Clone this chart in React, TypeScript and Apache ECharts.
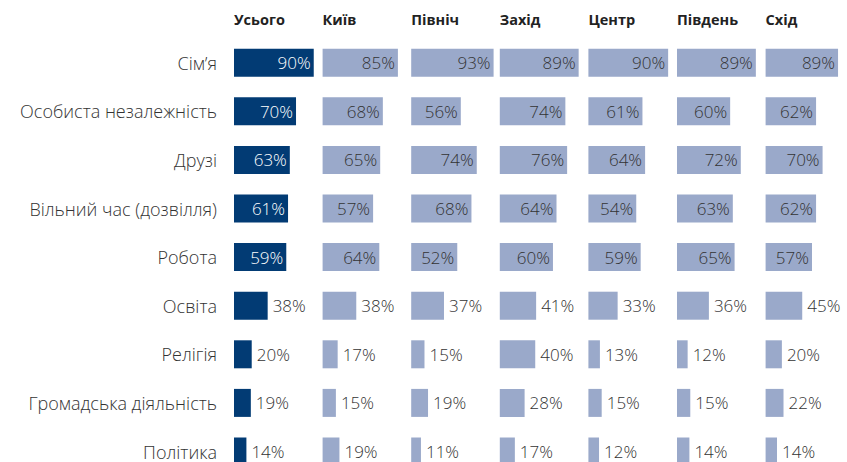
import React, { useEffect, useRef } from "react";
import * as echarts from "echarts";

const categories = [
  "Сім’я",
  "Особиста незалежність",
  "Друзі",
  "Вільний час (дозвілля)",
  "Робота",
  "Освіта",
  "Релігія",
  "Громадська діяльність",
  "Політика",
];

const regions = ["Усього", "Київ", "Північ", "Захід", "Центр", "Південь", "Схід"];

const total = [90, 70, 63, 61, 59, 38, 20, 19, 14];
const kyiv = [85, 68, 65, 57, 64, 38, 17, 15, 19];
const north = [93, 56, 74, 68, 52, 37, 15, 19, 11];
const west = [89, 74, 76, 64, 60, 41, 40, 28, 17];
const center = [90, 61, 64, 54, 59, 33, 13, 15, 12];
const south = [89, 60, 72, 63, 65, 36, 12, 15, 14];
const east = [89, 62, 70, 62, 57, 45, 20, 22, 14];

const seriesValues = [total, kyiv, north, west, center, south, east];

const DARK = "#023b74";
const LIGHT = "#9aa9ca";
const TEXT = "#333333";
const FONT = "'Open Sans', 'Noto Sans', sans-serif";

export default function App() {
  const ref = useRef<HTMLDivElement>(null);

  useEffect(() => {
    if (!ref.current) return;
    const chart = echarts.init(ref.current, undefined, { renderer: "svg" });
    const left0 = 234;
    const step = 88.6;
    const top = 38.4;
    const height = 437.4;

    const grids = regions.map((_, i) => ({
      left: left0 + i * step,
      top,
      width: step,
      height,
      containLabel: false,
    }));

    const xAxes = regions.map((_, i) => ({
      type: "value" as const,
      gridIndex: i,
      min: 0,
      max: 100,
      show: false,
    }));

    const yAxes = regions.map((_, i) => ({
      type: "category" as const,
      gridIndex: i,
      data: categories,
      inverse: true,
      axisLine: { show: false },
      axisTick: { show: false },
      splitLine: { show: false },
      axisLabel: {
        show: i === 0,
        margin: 17,
        fontSize: 18,
        fontWeight: 300,
        color: TEXT,
        fontFamily: FONT,
      },
    }));

    const series = seriesValues.map((vals, i) => ({
      type: "bar" as const,
      xAxisIndex: i,
      yAxisIndex: i,
      barWidth: 28,
      itemStyle: { color: i === 0 ? DARK : LIGHT },
      data: vals.map((v) => {
        const inside = v >= 50;
        return {
          value: v,
          label: {
            show: true,
            position: inside ? "insideRight" : "right",
            distance: inside ? 3 : 5,
            formatter: "{c}%",
            fontSize: 17,
            fontWeight: 300,
            fontFamily: FONT,
            color: inside && i === 0 ? "#ffffff" : TEXT,
          },
        };
      }),
    }));

    const titles = regions.map((r, i) => ({
      text: r,
      left: left0 + i * step,
      top: 12,
      textStyle: {
        fontSize: 14.5,
        fontWeight: "bold" as const,
        color: "#222222",
        fontFamily: FONT,
      },
      padding: 0,
    }));

    chart.setOption({
      animation: false,
      backgroundColor: "#ffffff",
      title: titles,
      grid: grids,
      xAxis: xAxes,
      yAxis: yAxes,
      series,
    });

    return () => chart.dispose();
  }, []);

  return (
    <div
      style={{
        position: "absolute",
        left: 0,
        top: 0,
        width: 847,
        height: 462,
        overflow: "hidden",
      }}
    >
      <div ref={ref} style={{ width: 847, height: 480 }} />
    </div>
  );
}
